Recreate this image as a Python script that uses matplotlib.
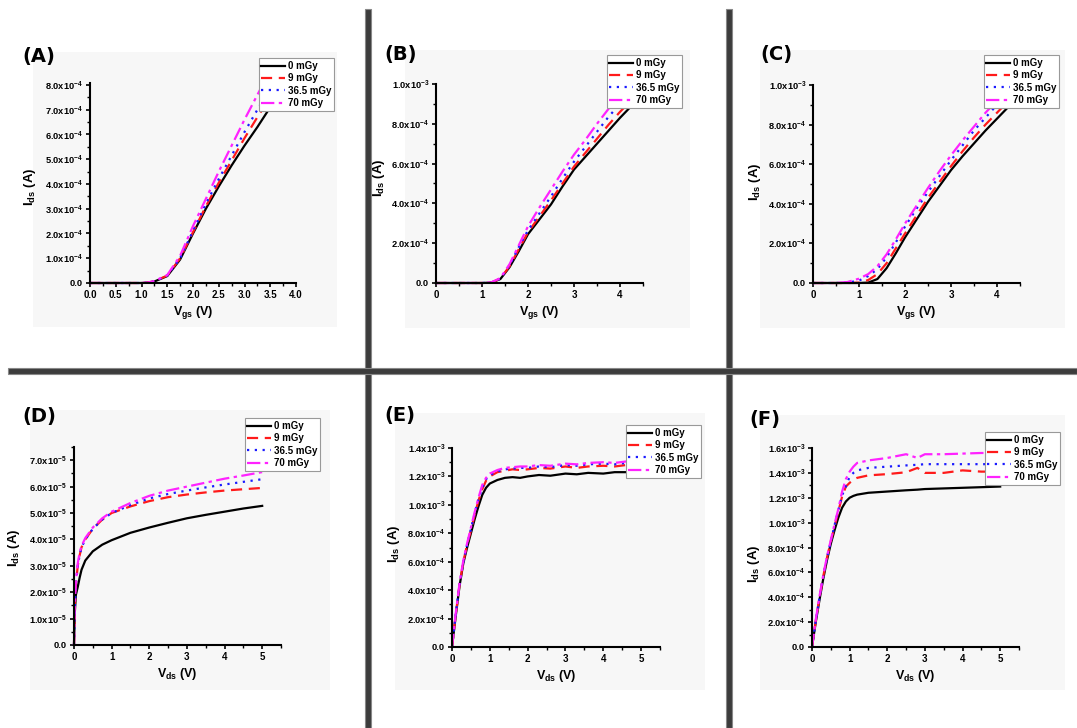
import numpy as np
import matplotlib
matplotlib.use('Agg')
import matplotlib.pyplot as plt
from matplotlib.patches import Rectangle
from matplotlib.ticker import MultipleLocator, AutoMinorLocator, FuncFormatter

plt.rcParams['font.family'] = ['Liberation Sans', 'DejaVu Sans']
plt.rcParams['font.weight'] = 'bold'
plt.rcParams['mathtext.fontset'] = 'custom'
plt.rcParams['mathtext.bf'] = 'Liberation Sans:bold'
plt.rcParams['mathtext.rm'] = 'Liberation Sans:bold'
plt.rcParams['mathtext.default'] = 'bf'

W, H = 1077, 728

doses = ['0 mGy', '9 mGy', '36.5 mGy', '70 mGy']

# transfer curves, Ids in units of 1e-4 A
vgs_a = [0, 0.5, 1.0, 1.1, 1.25, 1.5, 1.75, 2.0, 2.25, 2.5, 2.75, 3.0, 3.25, 3.5]
ids_a_0 = [0, 0, 0, 0.01, 0.06, 0.28, 0.95, 2.0, 3.0, 3.9, 4.75, 5.55, 6.3, 7.1]
ids_a_9 = [0, 0, 0, 0.01, 0.07, 0.3, 1.0, 2.05, 3.1, 4.05, 4.95, 5.85, 6.7, 7.5]
ids_a_36 = [0, 0, 0, 0.01, 0.07, 0.3, 1.0, 2.1, 3.2, 4.2, 5.15, 6.1, 7.0, 7.9]
ids_a_70 = [0, 0, 0, 0.01, 0.08, 0.32, 1.1, 2.3, 3.4, 4.5, 5.55, 6.6, 7.6, 8.6]

vgs_b = [0, 0.5, 1.0, 1.2, 1.4, 1.6, 1.8, 2.0, 2.25, 2.5, 2.75, 3.0, 3.25, 3.5, 3.75, 4.0, 4.25]
ids_b_0 = [0, 0, 0, 0.02, 0.2, 0.8, 1.6, 2.45, 3.2, 3.95, 4.85, 5.7, 6.35, 7.0, 7.65, 8.3, 8.9]
ids_b_9 = [0, 0, 0, 0.02, 0.22, 0.85, 1.7, 2.55, 3.35, 4.15, 5.0, 5.85, 6.55, 7.25, 7.95, 8.6, 9.2]
ids_b_36 = [0, 0, 0, 0.02, 0.22, 0.9, 1.8, 2.65, 3.5, 4.35, 5.25, 6.1, 6.85, 7.6, 8.35, 9.0, 9.6]
ids_b_70 = [0, 0, 0, 0.03, 0.25, 0.95, 1.9, 2.85, 3.8, 4.7, 5.6, 6.45, 7.2, 8.0, 8.75, 9.4, 9.9]

vgs_c = [0, 0.5, 0.75, 1.0, 1.2, 1.4, 1.6, 1.8, 2.0, 2.25, 2.5, 2.75, 3.0, 3.25, 3.5, 3.75, 4.0, 4.25]
ids_c_0 = [0, 0, 0, 0, 0.02, 0.2, 0.75, 1.5, 2.3, 3.2, 4.1, 4.9, 5.7, 6.4, 7.05, 7.7, 8.3, 8.9]
ids_c_9 = [0, 0, 0, 0.02, 0.15, 0.45, 1.0, 1.75, 2.5, 3.4, 4.3, 5.1, 5.9, 6.65, 7.35, 8.0, 8.6, 9.2]
ids_c_36 = [0, 0, 0.02, 0.12, 0.35, 0.7, 1.3, 2.05, 2.85, 3.75, 4.6, 5.4, 6.2, 6.95, 7.7, 8.35, 9.0, 9.6]
ids_c_70 = [0, 0, 0.05, 0.22, 0.45, 0.85, 1.45, 2.2, 3.0, 3.9, 4.8, 5.65, 6.45, 7.2, 7.9, 8.6, 9.2, 9.8]

# output curves
# D in units of 1e-5 A
vds_d = [0, 0.02, 0.05, 0.1, 0.15, 0.2, 0.3, 0.5, 0.75, 1.0, 1.5, 2.0, 2.5, 3.0, 3.5, 4.0, 4.5, 5.0]
ids_d_0 = [0, 1.2, 1.9, 2.2, 2.55, 2.85, 3.2, 3.55, 3.8, 3.97, 4.25, 4.45, 4.63, 4.8, 4.93, 5.05, 5.17, 5.27]
ids_d_9 = [0, 1.4, 2.3, 3.0, 3.4, 3.7, 4.0, 4.4, 4.75, 5.0, 5.25, 5.45, 5.6, 5.7, 5.78, 5.85, 5.9, 5.95]
ids_d_36 = [0, 1.4, 2.3, 3.0, 3.4, 3.7, 4.0, 4.4, 4.75, 5.0, 5.3, 5.55, 5.72, 5.85, 5.97, 6.08, 6.18, 6.28]
ids_d_70 = [0, 1.5, 2.4, 3.1, 3.5, 3.75, 4.05, 4.45, 4.8, 5.05, 5.38, 5.65, 5.85, 6.0, 6.15, 6.3, 6.42, 6.55]

# E, F in units of 1e-4 A
vds_e = [0, 0.1, 0.2, 0.3, 0.4, 0.5, 0.6, 0.7, 0.8, 0.9, 1.0, 1.2, 1.4, 1.6, 1.8, 2.0,
         2.3, 2.6, 3.0, 3.3, 3.6, 4.0, 4.3, 4.6, 5.0]
ids_e_0 = [0, 2.2, 4.3, 5.9, 7.0, 8.0, 9.0, 9.9, 10.7, 11.2, 11.5, 11.75, 11.9, 11.95, 11.9,
           12.0, 12.1, 12.05, 12.2, 12.15, 12.25, 12.2, 12.3, 12.3, 12.4]
ids_e_9 = [0, 2.3, 4.4, 6.0, 7.2, 8.2, 9.3, 10.3, 11.1, 11.7, 12.0, 12.3, 12.4, 12.5, 12.45,
           12.5, 12.6, 12.55, 12.7, 12.6, 12.7, 12.75, 12.7, 12.8, 12.8]
ids_e_36 = [0, 2.3, 4.4, 6.0, 7.2, 8.3, 9.4, 10.4, 11.2, 11.8, 12.1, 12.35, 12.5, 12.55, 12.6,
            12.6, 12.7, 12.65, 12.8, 12.75, 12.85, 12.9, 12.85, 12.95, 12.9]
ids_e_70 = [0, 2.4, 4.5, 6.1, 7.3, 8.4, 9.5, 10.5, 11.4, 11.9, 12.2, 12.45, 12.6, 12.65, 12.7,
            12.7, 12.8, 12.75, 12.9, 12.85, 12.95, 13.0, 12.95, 13.05, 13.0]

vds_f = [0, 0.1, 0.2, 0.3, 0.4, 0.5, 0.6, 0.7, 0.8, 0.9, 1.0, 1.1, 1.2, 1.5, 2.0, 2.5,
         2.8, 3.0, 3.5, 4.0, 4.5, 5.0]
ids_f_0 = [0, 2.0, 3.8, 5.5, 7.0, 8.3, 9.4, 10.4, 11.2, 11.7, 12.0, 12.15, 12.25, 12.4, 12.5,
           12.6, 12.65, 12.7, 12.75, 12.8, 12.85, 12.9]
ids_f_9 = [0, 2.1, 4.0, 5.7, 7.2, 8.5, 9.7, 10.9, 12.1, 12.9, 13.2, 13.45, 13.6, 13.8, 13.9,
           14.05, 14.4, 14.0, 14.0, 14.2, 14.1, 14.1]
ids_f_36 = [0, 2.1, 4.0, 5.7, 7.2, 8.5, 9.8, 11.0, 12.2, 12.9, 13.7, 14.0, 14.2, 14.4, 14.5,
            14.6, 14.65, 14.7, 14.7, 14.7, 14.7, 14.7]
ids_f_70 = [0, 2.2, 4.1, 5.8, 7.3, 8.6, 9.9, 11.1, 12.5, 13.5, 14.1, 14.5, 14.8, 15.0, 15.2,
            15.5, 15.2, 15.5, 15.5, 15.55, 15.6, 15.6]

styles = [dict(color='black', ls='-'),
          dict(color='#ff1a1a', ls=(0, (5, 3))),
          dict(color='#1a1aff', ls=(0, (1, 2.5))),
          dict(color='#ff22ff', ls=(0, (6, 2, 1.5, 2)))]


def sci_label(v, pos):
    if abs(v) < 1e-12:
        return '0.0'
    e = int(np.floor(np.log10(abs(v)) + 1e-9))
    m = v / 10**e
    return '%.1fx10$^{%d}$' % (m, e)


def pix_axes(left, right, top, bottom):
    return fig.add_axes([left / W, 1 - bottom / H, (right - left) / W, (bottom - top) / H])


fig = plt.figure(figsize=(W / 100, H / 100), dpi=100)
fig.patch.set_facecolor('white')

# light grey backdrops behind each panel
backs = [(33, 52, 337, 327), (405, 50, 690, 328), (760, 50, 1065, 328),
         (30, 410, 330, 690), (395, 413, 705, 690), (760, 415, 1065, 690)]
for x0, y0, x1, y1 in backs:
    fig.add_artist(Rectangle((x0 / W, 1 - y1 / H), (x1 - x0) / W, (y1 - y0) / H,
                             transform=fig.transFigure, facecolor='#f7f7f7',
                             edgecolor='none', zorder=0))

# dark separators
sep = '#3c3c3c'
fig.add_artist(Rectangle((365 / W, 0), 6 / W, 1 - 9 / H, transform=fig.transFigure,
                         facecolor=sep, edgecolor='#888888', lw=0.8, zorder=1))
fig.add_artist(Rectangle((726 / W, 0), 6 / W, 1 - 9 / H, transform=fig.transFigure,
                         facecolor=sep, edgecolor='#888888', lw=0.8, zorder=1))
fig.add_artist(Rectangle((8 / W, 1 - 374 / H), 1 - 8 / W, 6 / H, transform=fig.transFigure,
                         facecolor=sep, edgecolor='#888888', lw=0.8, zorder=1))

panels = [
    dict(tag='(A)', rect=(90, 296, 82.5, 283), x=vgs_a, ys=[ids_a_0, ids_a_9, ids_a_36, ids_a_70],
         scale=1e-4, xlim=(0, 4.0), ylim=(0, 8.1e-4), xmaj=0.5, xfmt='%.1f', ymaj=1e-4,
         xlab='V$_{gs}$ (V)', ylc=(-0.25, 0.48), leg=(334, 58), tagpos=(22, 62)),
    dict(tag='(B)', rect=(436, 643, 84, 283), x=vgs_b, ys=[ids_b_0, ids_b_9, ids_b_36, ids_b_70],
         scale=1e-4, xlim=(0, 4.5), ylim=(0, 1.0e-3), xmaj=1, xfmt='%d', ymaj=2e-4,
         xlab='V$_{gs}$ (V)', ylc=(-0.235, 0.53), leg=(682, 55), tagpos=(384, 60)),
    dict(tag='(C)', rect=(813, 1020, 85, 283), x=vgs_c, ys=[ids_c_0, ids_c_9, ids_c_36, ids_c_70],
         scale=1e-4, xlim=(0, 4.5), ylim=(0, 1.0e-3), xmaj=1, xfmt='%d', ymaj=2e-4,
         xlab='V$_{gs}$ (V)', ylc=(-0.24, 0.51), leg=(1059, 55), tagpos=(760, 60)),
    dict(tag='(D)', rect=(74, 281, 447, 645), x=vds_d, ys=[ids_d_0, ids_d_9, ids_d_36, ids_d_70],
         scale=1e-5, xlim=(0, 5.5), ylim=(0, 7.5e-5), xmaj=1, xfmt='%d', ymaj=1e-5,
         xlab='V$_{ds}$ (V)', ylc=(-0.25, 0.49), leg=(320, 418), tagpos=(22, 422)),
    dict(tag='(E)', rect=(452, 660, 448, 647), x=vds_e, ys=[ids_e_0, ids_e_9, ids_e_36, ids_e_70],
         scale=1e-4, xlim=(0, 5.5), ylim=(0, 1.4e-3), xmaj=1, xfmt='%d', ymaj=2e-4,
         xlab='V$_{ds}$ (V)', ylc=(-0.24, 0.52), leg=(701, 425), tagpos=(384, 421)),
    dict(tag='(F)', rect=(812, 1019, 448, 647), x=vds_f, ys=[ids_f_0, ids_f_9, ids_f_36, ids_f_70],
         scale=1e-4, xlim=(0, 5.5), ylim=(0, 1.6e-3), xmaj=1, xfmt='%d', ymaj=2e-4,
         xlab='V$_{ds}$ (V)', ylc=(-0.24, 0.42), leg=(1060, 432), tagpos=(749, 425)),
]

for p in panels:
    ax = pix_axes(*p['rect'])
    ax.set_facecolor('none')
    for y, st, lab in zip(p['ys'], styles, doses):
        ax.plot(p['x'], np.array(y) * p['scale'], lw=1.6, label=lab, clip_on=False, **st)
    ax.set_xlim(*p['xlim'])
    ax.set_ylim(*p['ylim'])
    ax.spines['top'].set_visible(False)
    ax.spines['right'].set_visible(False)
    for s in ['left', 'bottom']:
        ax.spines[s].set_linewidth(1.5)
    ax.xaxis.set_major_locator(MultipleLocator(p['xmaj']))
    ax.xaxis.set_major_formatter(FuncFormatter(lambda v, pos, f=p['xfmt']: f % v))
    ax.yaxis.set_major_locator(MultipleLocator(p['ymaj']))
    ax.yaxis.set_major_formatter(FuncFormatter(sci_label))
    ax.xaxis.set_minor_locator(AutoMinorLocator(2))
    ax.yaxis.set_minor_locator(AutoMinorLocator(2))
    ax.tick_params(which='major', direction='out', length=3, width=1.2, labelsize=6.7, pad=2)
    ax.tick_params(axis='x', which='major', labelsize=7)
    ax.tick_params(which='minor', direction='out', length=2, width=1)
    ax.set_xlabel(p['xlab'], fontsize=9, fontweight='bold', labelpad=3)
    ax.set_ylabel('I$_{ds}$ (A)', fontsize=9.5, fontweight='bold')
    ax.yaxis.set_label_coords(*p['ylc'])
    lx, ly = p['leg']
    leg = ax.legend(loc='upper right', bbox_to_anchor=(lx / W, 1 - ly / H),
                    bbox_transform=fig.transFigure, fontsize=7, frameon=True,
                    fancybox=False, edgecolor='#999999', framealpha=1,
                    handlelength=2.4, handletextpad=0.3, labelspacing=0.25,
                    borderpad=0.3, borderaxespad=0)
    leg.get_frame().set_linewidth(0.8)
    leg.set_zorder(10)
    tx, ty = p['tagpos']
    fig.text(tx / W, 1 - ty / H, p['tag'], fontsize=14, fontweight='bold',
             family=['DejaVu Sans'], ha='left', va='baseline')

fig.savefig('out.png', dpi=100)
